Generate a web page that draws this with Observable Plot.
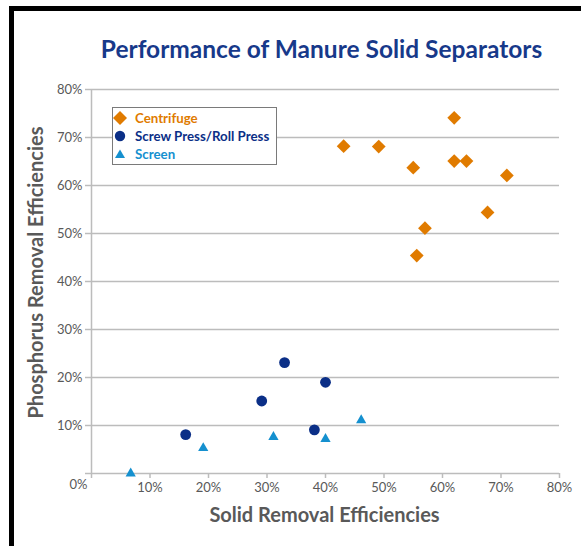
<!DOCTYPE html>
<html>
<head>
<meta charset="utf-8">
<script src="https://cdn.jsdelivr.net/npm/d3@7"></script>
<script src="https://cdn.jsdelivr.net/npm/@observablehq/plot@0.6"></script>
<style>
  html, body { margin: 0; padding: 0; background: #fff; }
  #wrap { position: relative; width: 581px; height: 546px; overflow: hidden; font-family: Lato, "DejaVu Sans", sans-serif; }
  #frame { position: absolute; left: 9px; top: 6px; right: -10px; bottom: -10px; border-left: 5px solid #000; border-top: 5px solid #000; pointer-events: none; }
  #legend { position: absolute; left: 112px; top: 107px; width: 163px; height: 56px; border: 1px solid #7a7a7a; background: #fff; font-weight: bold; font-size: 13.3px; }
  .row { position: absolute; left: 0; height: 18px; line-height: 18px; white-space: nowrap; }
  .row svg { position: absolute; left: 0; top: 0; }
  .row span { position: absolute; left: 22px; top: 0; }
</style>
</head>
<body>
<div id="wrap">
  <div id="chart"></div>
  <div id="legend"></div>
  <div id="frame"></div>
</div>
<script>
// ---- data (fractions) ----
const seriesNames = ["Centrifuge", "Screw Press/Roll Press", "Screen"];
const seriesColors = ["#e07b00", "#0b2f87", "#1590cf"];

const centrifugeSolid = [0.431, 0.491, 0.550, 0.620, 0.620, 0.641, 0.710, 0.677, 0.570, 0.556];
const centrifugeP     = [0.682, 0.681, 0.637, 0.741, 0.651, 0.651, 0.621, 0.544, 0.511, 0.454];

const screwSolid = [0.161, 0.291, 0.330, 0.400, 0.381];
const screwP     = [0.081, 0.151, 0.231, 0.190, 0.091];

const screenSolid = [0.067, 0.191, 0.311, 0.400, 0.461];
const screenP     = [0.000, 0.053, 0.076, 0.072, 0.111];

const xTicks = [0, 0.1, 0.2, 0.3, 0.4, 0.5, 0.6, 0.7, 0.8];
const yTicks = [0, 0.1, 0.2, 0.3, 0.4, 0.5, 0.6, 0.7, 0.8];

const title = "Performance of Manure Solid Separators";
const xTitle = "Solid Removal Efficiencies";
const yTitle = "Phosphorus Removal Efficiencies";

// ---- build table ----
const toRows = (xs, ys, name) => xs.map((x, i) => ({x, y: ys[i], series: name}));
const centrifuge = toRows(centrifugeSolid, centrifugeP, seriesNames[0]);
const screw = toRows(screwSolid, screwP, seriesNames[1]);
const screen = toRows(screenSolid, screenP, seriesNames[2]);

const pct = d3.format(".0%");
const gridColor = "#bcbcbc";
const textColor = "#595959";

const chart = Plot.plot({
  width: 581,
  height: 546,
  marginLeft: 91,
  marginRight: 22,
  marginTop: 89,
  marginBottom: 73,
  x: {domain: [0, 0.8]},
  y: {domain: [0, 0.8]},
  style: {fontFamily: "Lato, 'DejaVu Sans', sans-serif", background: "transparent"},
  marks: [
    Plot.ruleY(yTicks, {stroke: gridColor, strokeWidth: 1.5}),
    Plot.ruleX([0], {stroke: gridColor, strokeWidth: 1.5}),
    Plot.axisX({ticks: xTicks, tickFormat: d => d === 0 ? "" : pct(d), tickSize: 5, tickPadding: 4,
      fontSize: 13, stroke: gridColor, strokeWidth: 1.5, fill: textColor, label: null}),
    Plot.axisY({ticks: yTicks, tickFormat: d => d === 0 ? "" : pct(d), tickSize: 6, tickPadding: 3,
      fontSize: 13, stroke: gridColor, strokeWidth: 1.5, fill: textColor, label: null}),
    Plot.text([pct(0)], {x: () => 0, y: () => 0, dx: -4, dy: 11, textAnchor: "end", fontSize: 13, fill: textColor}),
    Plot.dot(screen, {x: "x", y: "y", symbol: "triangle", r: 3.8, fill: seriesColors[2], stroke: "none"}),
    Plot.dot(screw, {x: "x", y: "y", symbol: "circle", r: 5.4, fill: seriesColors[1], stroke: "none"}),
    Plot.dot(centrifuge, {x: "x", y: "y", symbol: "diamond2", r: 6.2, fill: seriesColors[0], stroke: "none"}),
    Plot.text([title], {frameAnchor: "top", lineAnchor: "middle", textAnchor: "middle", dx: -4, dy: -39, fontSize: 24.5, fontWeight: "bold", fill: "#17398a"}),
    Plot.text([xTitle], {frameAnchor: "bottom", lineAnchor: "middle", textAnchor: "middle", dx: -1, dy: 42, fontSize: 20, fontWeight: "bold", fill: textColor}),
    Plot.text([yTitle], {frameAnchor: "left", lineAnchor: "middle", textAnchor: "middle", dx: -55, dy: -9, rotate: -90, fontSize: 20, fontWeight: "bold", fill: textColor})
  ]
});
document.getElementById("chart").appendChild(chart);

// ---- legend ----
const legend = document.getElementById("legend");
const centers = [10, 28, 46];
const symbolSvg = [
  `<svg width="16" height="18"><polygon points="7,2 14,9 7,16 0,9" fill="${seriesColors[0]}"/></svg>`,
  `<svg width="16" height="18"><circle cx="7" cy="9" r="5.2" fill="${seriesColors[1]}"/></svg>`,
  `<svg width="16" height="18"><polygon points="7,4.5 12,13 2,13" fill="${seriesColors[2]}"/></svg>`
];
seriesNames.forEach((name, i) => {
  const row = document.createElement("div");
  row.className = "row";
  row.style.top = (centers[i] - 9) + "px";
  row.style.left = "0px";
  row.innerHTML = symbolSvg[i] + `<span style="color:${seriesColors[i]}">${name}</span>`;
  legend.appendChild(row);
});
</script>
</body>
</html>
